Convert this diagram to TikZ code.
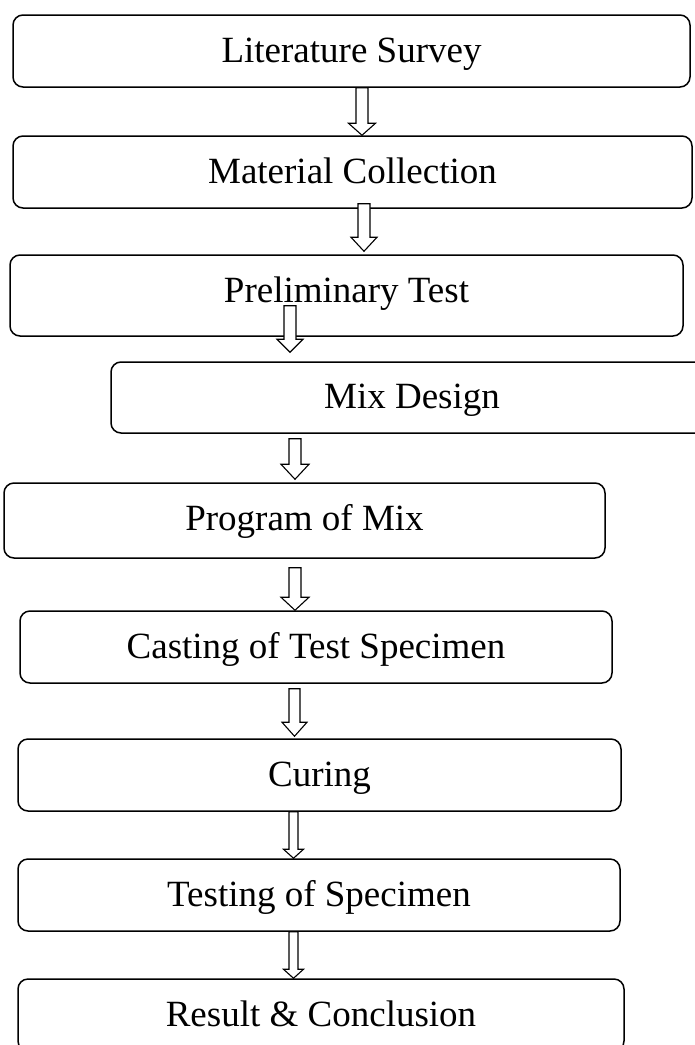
\documentclass[tikz,border=0pt]{standalone}
\usepackage{fontspec}
\setmainfont{Liberation Serif}
\usetikzlibrary{calc}
\tikzset{
  stepbox/.style={draw=black, line width=1.5pt, rounded corners=10pt, fill=white,
    inner sep=0pt, text height=26pt, text depth=4pt, font=\fontsize{37}{44}\selectfont},
  arrowbox/.style={draw=black, line width=1.1pt, fill=white, line join=miter}
}
% #1 start point, #2 tip point, #3 shaft half-width, #4 head half-width, #5 head length
\newcommand\blockarrow[5]{%
  \draw[arrowbox] let \p1=#1, \p2=#2 in
    (\x1-#3pt,\y1) -- (\x1+#3pt,\y1) -- (\x1+#3pt,\y2+#5pt) -- (\x1+#4pt,\y2+#5pt)
    -- (\x1,\y2) -- (\x1-#4pt,\y2+#5pt) -- (\x1-#3pt,\y2+#5pt) -- cycle;}
\begin{document}
\begin{tikzpicture}[x=1pt,y=-1pt]
\clip (0,0) rectangle (695,1045);
\fill[white] (0,0) rectangle (695,1045);
\node[stepbox, minimum width=677pt, minimum height=72pt] (b1) at (351.5,51) {Literature Survey};
\node[stepbox, minimum width=679pt, minimum height=72pt] (b2) at (352.5,172) {Material Collection};
\node[stepbox, minimum width=673pt, minimum height=81pt, text depth=13pt] (b3) at (346.5,295.5) {Preliminary Test};
\node[stepbox, minimum width=602pt, minimum height=71pt, text depth=5pt] (b4) at (412,397.5) {Mix Design};
\node[stepbox, minimum width=601pt, minimum height=75pt, text depth=7pt] (b5) at (304.5,520.5) {Program of Mix};
\node[stepbox, minimum width=592pt, minimum height=72pt] (b6) at (316,647) {Casting of Test Specimen};
\node[stepbox, minimum width=603pt, minimum height=72pt] (b7) at (319.5,775) {Curing};
\node[stepbox, minimum width=602pt, minimum height=72pt] (b8) at (319,895) {Testing of Specimen};
\node[stepbox, minimum width=606pt, minimum height=72pt] (b9) at (321,1015) {Result \& Conclusion};

\blockarrow{(b1.south -| 362,0)}{(b2.north -| 362,0)}{6}{13.5}{12}
\blockarrow{([yshift=5pt]b2.south -| 364,0)}{([yshift=3pt]b3.north -| 364,0)}{6}{13}{14}
\blockarrow{([yshift=31pt]b3.south -| 290,0)}{([yshift=9pt]b4.north -| 290,0)}{6}{13}{13}
\blockarrow{([yshift=-5pt]b4.south -| 295,0)}{([yshift=3pt]b5.north -| 295,0)}{6}{14}{15}
\blockarrow{([yshift=-9pt]b5.south -| 295,0)}{(b6.north -| 295,0)}{6}{14}{13}
\blockarrow{([yshift=-5pt]b6.south -| 294.5,0)}{([yshift=2pt]b7.north -| 294.5,0)}{5.5}{12.5}{14}
\blockarrow{(b7.south -| 293.5,0)}{(b8.north -| 293.5,0)}{4.5}{10}{9}
\blockarrow{(b8.south -| 293.5,0)}{(b9.north -| 293.5,0)}{4.5}{10}{9}
\end{tikzpicture}
\end{document}
